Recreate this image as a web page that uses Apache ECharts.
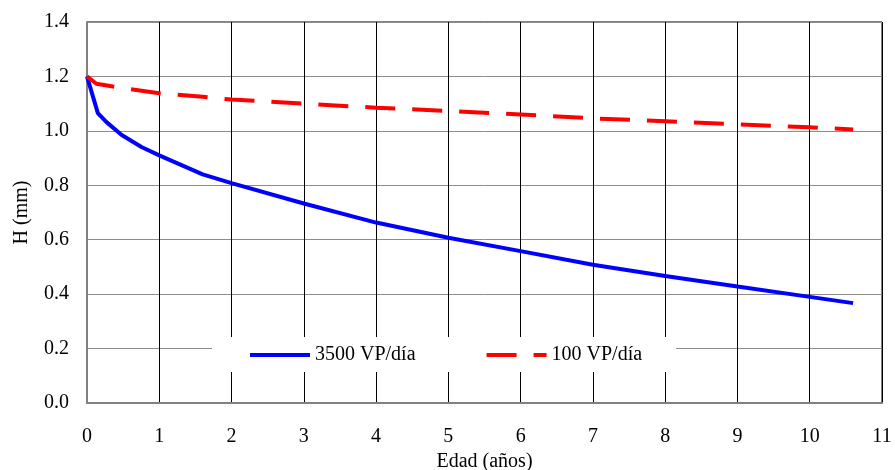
<!DOCTYPE html>
<html lang="es">
<head>
    <meta charset="utf-8">
    <script src="https://cdn.jsdelivr.net/npm/echarts@6/dist/echarts.min.js"></script>
    <style>
        html, body { margin: 0; padding: 0; background: #fff; }
    </style>
</head>
<body>
    <div id="main" style="width: 895px;height:470px;"></div>
<script>
    // Edad (años) y espesor H (mm) de cada serie
    var edad3500 = [0, 0.15, 0.27, 0.48, 0.76, 1.0, 1.6, 2.0, 3, 4, 5, 6, 7, 8, 9, 10, 10.6];
    var h3500 = [1.2, 1.065, 1.032, 0.985, 0.94, 0.91, 0.84, 0.808, 0.733, 0.663, 0.607, 0.558, 0.508, 0.467, 0.428, 0.39, 0.367];
    var edad100 = [0, 0.13, 0.36, 1.0, 1.6, 2, 3, 4, 5, 6, 7, 8, 9, 10, 10.6];
    var h100 = [1.2, 1.173, 1.163, 1.138, 1.125, 1.115, 1.10, 1.085, 1.073, 1.06, 1.046, 1.035, 1.024, 1.013, 1.005];
    var nombres = ['3500 VP/día', '100 VP/día'];

    function pares(xs, ys) {
        var out = [];
        for (var i = 0; i < xs.length; i++) {
            out.push([xs[i], ys[i]]);
        }
        return out;
    }

    var fuente = 'Liberation Serif';
    var myChart = echarts.init(document.getElementById('main'));
    myChart.setOption({
        animation: false,
        textStyle: { fontFamily: fuente },
        grid: {
            left: 87, right: 13, top: 22, bottom: 67,
            outerBoundsMode: 'none',
            show: true, borderColor: '#000', borderWidth: 1
        },
        legend: {
            data: nombres,
            left: 212, top: 337,
            padding: [8, 34, 7, 36],
            backgroundColor: '#fff',
            itemWidth: 60, itemHeight: 14, itemGap: 69,
            itemStyle: { opacity: 0 },
            lineStyle: { width: 4 },
            textStyle: { fontFamily: fuente, fontSize: 20, color: '#000' }
        },
        xAxis: {
            type: 'value',
            min: 0, max: 11, interval: 1,
            name: 'Edad (años)',
            nameLocation: 'middle',
            nameGap: 47,
            nameTextStyle: { fontFamily: fuente, fontSize: 20, color: '#000' },
            axisLine: { lineStyle: { color: '#808080', width: 2 } },
            axisTick: { show: false },
            axisLabel: { margin: 24, fontFamily: fuente, fontSize: 20, color: '#000' },
            splitLine: { show: true, lineStyle: { color: '#000', width: 1 } }
        },
        yAxis: {
            type: 'value',
            min: 0, max: 1.4, interval: 0.2,
            name: 'H (mm)',
            nameLocation: 'middle',
            nameGap: 55,
            nameTextStyle: { fontFamily: fuente, fontSize: 20, color: '#000' },
            axisLine: { show: true, lineStyle: { color: '#808080', width: 2 } },
            axisTick: { show: false },
            axisLabel: {
                margin: 18, fontFamily: fuente, fontSize: 20, color: '#000',
                formatter: function (v) { return v.toFixed(1); }
            },
            splitLine: { show: true, lineStyle: { color: '#8c8c8c', width: 1 } }
        },
        series: [{
            name: nombres[0],
            type: 'line',
            data: pares(edad3500, h3500),
            symbol: 'none',
            lineStyle: { color: '#0000ff', width: 4 },
            itemStyle: { color: '#0000ff' }
        }, {
            name: nombres[1],
            type: 'line',
            data: pares(edad100, h100),
            symbol: 'none',
            lineStyle: { color: '#ff0000', width: 4, type: [30, 17] },
            itemStyle: { color: '#ff0000' }
        }]
    });
</script>
</body>
</html>
